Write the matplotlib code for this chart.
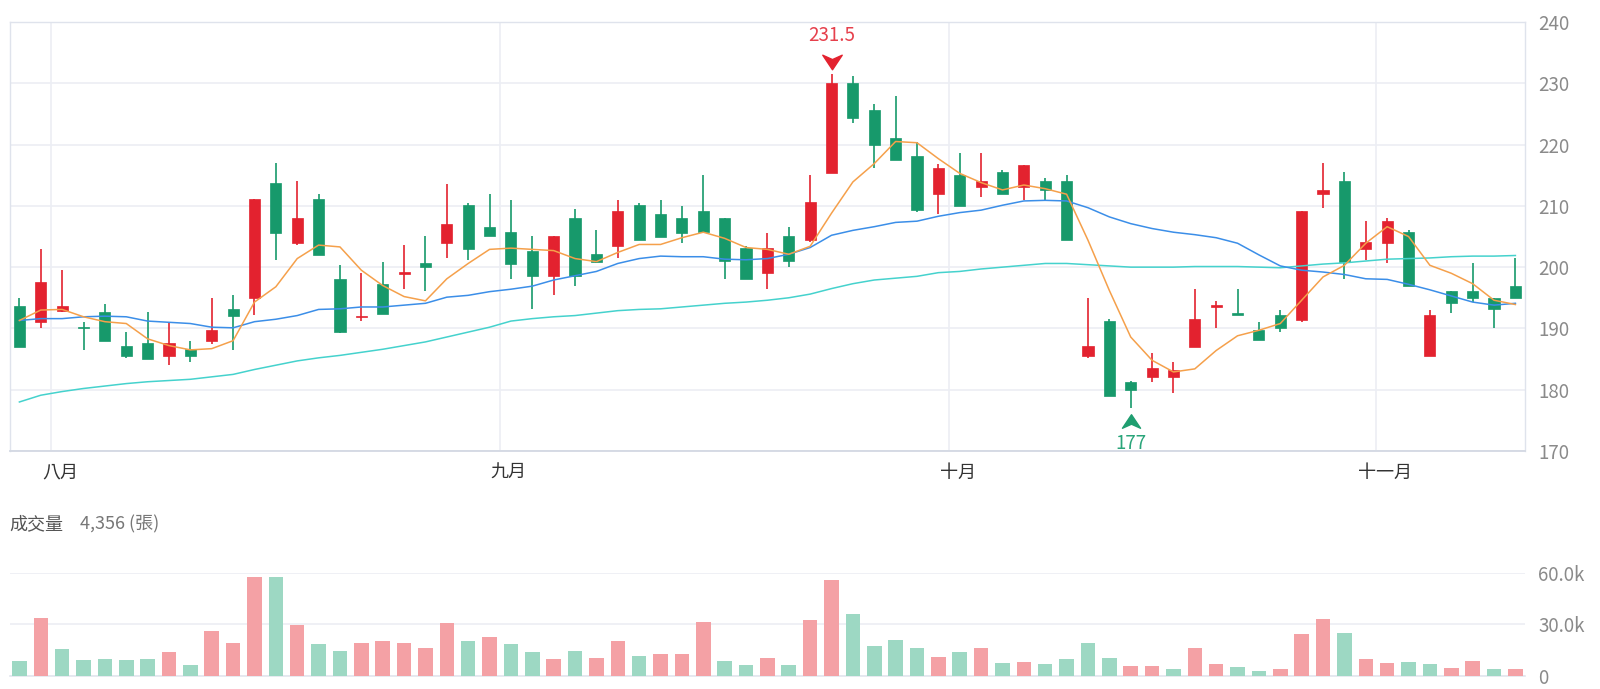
import numpy as np
import matplotlib
matplotlib.use("Agg")
import matplotlib.pyplot as plt
from matplotlib.path import Path
from matplotlib.transforms import offset_copy, blended_transform_factory

plt.rcParams['font.family'] = ['Noto Sans CJK TC', 'DejaVu Sans']

# daily candles (open, close, high, low)
opens = [193.6, 191.0, 192.9, 190.2, 192.6, 187.1, 187.7, 185.5, 186.7, 188.0,
         193.1, 195.0, 213.7, 204.0, 211.1, 198.1, 191.8, 197.2, 198.9, 200.6,
         204.0, 210.1, 206.6, 205.7, 202.7, 198.5, 208.1, 202.1, 203.5, 210.1,
         208.6, 208.1, 209.1, 208.1, 203.2, 199.0, 205.1, 204.5, 215.4, 230.1,
         225.6, 221.1, 218.1, 212.0, 215.1, 213.1, 215.6, 213.0, 214.1, 214.1,
         185.5, 191.2, 181.2, 182.1, 182.1, 187.0, 193.5, 192.3, 189.7, 192.2,
         191.4, 212.0, 214.1, 203.0, 204.0, 205.7, 185.5, 196.1, 196.1, 195.0,
         197.0]
closes = [187.0, 197.6, 193.7, 190.0, 188.0, 185.5, 185.0, 187.7, 185.5, 189.7,
          192.0, 211.1, 205.5, 208.1, 202.0, 189.4, 192.1, 192.3, 199.1, 200.0,
          207.1, 203.0, 205.1, 200.5, 198.5, 205.1, 198.5, 200.9, 209.1, 204.5,
          204.9, 205.5, 205.7, 201.0, 198.0, 203.1, 201.0, 210.7, 230.1, 224.4,
          219.9, 217.5, 209.4, 216.1, 210.0, 214.1, 212.0, 216.6, 212.6, 204.5,
          187.1, 178.9, 180.0, 183.6, 183.2, 191.6, 193.7, 192.2, 188.1, 190.0,
          209.1, 212.6, 200.9, 204.1, 207.6, 197.0, 192.2, 194.1, 195.0, 193.1,
          195.0]
highs = [195.0, 203.0, 199.5, 191.1, 194.0, 189.4, 192.7, 191.1, 188.0, 195.0,
         195.4, 211.1, 217.0, 214.0, 212.0, 200.4, 199.0, 200.9, 203.6, 205.1,
         213.5, 210.5, 212.0, 211.0, 205.1, 205.1, 209.5, 206.0, 211.0, 210.5,
         211.0, 210.0, 215.0, 208.1, 203.5, 205.6, 206.6, 215.0, 231.5, 231.2,
         226.6, 228.0, 220.5, 216.9, 218.6, 218.6, 215.9, 216.6, 214.6, 215.0,
         195.0, 191.5, 181.5, 186.0, 184.5, 196.5, 194.4, 196.5, 191.0, 193.0,
         209.1, 217.0, 215.6, 207.6, 208.0, 206.0, 193.0, 196.1, 200.6, 195.0,
         201.5]
lows = [187.0, 190.0, 192.6, 186.5, 188.0, 185.1, 185.0, 184.0, 184.5, 187.5,
        186.5, 192.2, 201.1, 203.6, 202.0, 189.2, 191.2, 192.3, 196.5, 196.1,
        201.5, 201.1, 205.1, 198.1, 193.1, 195.5, 197.0, 200.6, 201.5, 204.5,
        204.9, 204.0, 205.7, 198.1, 198.0, 196.5, 200.0, 204.1, 215.4, 223.6,
        216.1, 217.5, 209.0, 208.6, 210.0, 211.5, 212.0, 211.0, 211.0, 204.5,
        185.1, 178.9, 177.0, 181.3, 179.5, 187.0, 190.0, 192.2, 188.1, 189.4,
        191.1, 209.6, 198.1, 201.1, 200.6, 197.0, 185.5, 192.5, 194.3, 190.0,
        195.0]

# moving averages
ma5 = [191.3, 193.0, 193.1, 191.9, 191.1, 190.8, 188.3, 187.2, 186.5, 186.7,
       188.0, 194.3, 196.8, 201.4, 203.6, 203.3, 199.5, 197.0, 195.2, 194.5,
       198.1, 200.6, 202.9, 203.1, 202.9, 202.7, 201.4, 200.9, 202.4, 203.7,
       203.7, 204.8, 205.7, 204.7, 203.2, 202.9, 202.1, 203.4, 208.8, 213.9,
       216.9, 220.5, 220.3, 217.7, 215.3, 213.8, 212.6, 213.4, 212.8, 211.9,
       204.4, 196.2, 188.6, 184.8, 182.9, 183.4, 186.4, 188.8, 189.7, 190.8,
       194.6, 198.4, 200.3, 203.9, 206.6, 205.0, 200.3, 199.0, 197.3, 194.6,
       193.9]
ma20 = [191.3, 191.6, 191.6, 191.9, 192.0, 191.9, 191.2, 191.0, 190.8, 190.2,
        190.1, 191.1, 191.5, 192.1, 193.1, 193.2, 193.5, 193.5, 193.8, 194.1,
        195.1, 195.4, 196.0, 196.4, 196.9, 197.9, 198.6, 199.3, 200.6, 201.4,
        201.8, 201.7, 201.7, 201.3, 201.2, 201.4, 202.1, 203.2, 205.2, 206.0,
        206.6, 207.3, 207.5, 208.3, 208.9, 209.3, 210.1, 210.8, 210.9, 210.8,
        209.7, 208.2, 207.1, 206.3, 205.7, 205.3, 204.8, 203.9, 202.0, 200.2,
        199.5, 199.2, 198.8, 198.1, 198.0, 197.2, 196.3, 195.3, 194.3, 193.8,
        194.1]
ma60 = [178.0, 179.1, 179.7, 180.2, 180.6, 181.0, 181.3, 181.5, 181.7, 182.1,
        182.5, 183.3, 184.0, 184.7, 185.2, 185.6, 186.1, 186.6, 187.2, 187.8,
        188.6, 189.4, 190.2, 191.2, 191.6, 191.9, 192.1, 192.5, 192.9, 193.1,
        193.2, 193.5, 193.8, 194.1, 194.3, 194.6, 195.0, 195.6, 196.5, 197.3,
        197.9, 198.2, 198.5, 199.1, 199.3, 199.7, 200.0, 200.3, 200.6, 200.6,
        200.4, 200.2, 200.0, 200.0, 200.0, 200.1, 200.1, 200.1, 200.0, 199.9,
        200.2, 200.5, 200.7, 201.0, 201.3, 201.4, 201.5, 201.7, 201.8, 201.8,
        201.9]

# volume in thousands of lots
volume_k = [8.5, 33.5, 15.4, 9.4, 10.0, 9.4, 10.0, 13.8, 6.5, 26.3,
            19.2, 57.5, 57.5, 29.8, 18.7, 14.6, 19.0, 20.6, 19.0, 16.3,
            30.6, 20.4, 22.9, 18.5, 14.2, 9.6, 14.6, 10.2, 20.6, 11.7,
            12.5, 12.9, 31.5, 8.5, 6.5, 10.6, 6.2, 32.7, 55.6, 36.0,
            17.7, 21.0, 16.5, 11.3, 14.2, 16.2, 7.7, 8.1, 6.7, 9.6,
            19.0, 10.4, 5.6, 5.6, 4.2, 16.3, 7.1, 5.0, 2.9, 4.0,
            24.4, 33.1, 24.8, 10.0, 7.5, 8.3, 6.7, 4.8, 8.8, 3.8,
            4.356]

month_names = ['八月', '九月', '十月', '十一月']
month_start = [2, 23, 44, 64]   # index of first trading day in month

RED = '#e3222f'
GREEN = '#17996b'
VRED = '#f4a1a5'
VGREEN = '#9dd8c3'
GRID = '#eceef4'
FRAME = '#dfe3ec'
TICK = '#8a8a8a'

o = np.array(opens)
c = np.array(closes)
h = np.array(highs)
l = np.array(lows)
x = np.arange(len(o))
vol = np.array(volume_k) * 1000

W, H = 1600, 689
fig = plt.figure(figsize=(W / 100, H / 100), dpi=100)

def px_axes(left, top, right, bottom):
    return fig.add_axes([left / W, 1 - bottom / H, (right - left) / W, (bottom - top) / H])

ax = px_axes(10, 22, 1525, 451)
axv = px_axes(10, 572.7, 1525, 676)

# ---- price panel
xlim = (-0.44, 70.45)
ax.set_xlim(*xlim)
ax.set_ylim(170, 240)
ax.set_yticks(np.arange(170, 241, 10))
ax.yaxis.tick_right()
ax.tick_params(axis='y', length=0, pad=9.5, labelsize=13.5, labelcolor=TICK)
for lbl in ax.get_yticklabels():
    lbl.set_horizontalalignment('left')
ax.set_xticks([])
ax.grid(axis='y', color=GRID, lw=1.2)
ax.set_axisbelow(True)
for s in ax.spines.values():
    s.set_color(FRAME)
    s.set_linewidth(1.0)
ax.spines['bottom'].set_color('#d3d8e3')
ax.spines['bottom'].set_linewidth(1.3)

for m in month_start:
    ax.axvline(m - 0.5, color=GRID, lw=1.2, zorder=0)
trans = blended_transform_factory(ax.transData, ax.transAxes)
for name, m in zip(month_names, month_start):
    ax.text(m - 0.1, -0.05, name, transform=trans, ha='center', va='center',
            fontsize=13, color='#333333')

up = c >= o
colors = np.where(up, RED, GREEN)
ax.vlines(x, l, h, colors=colors, lw=1.2, zorder=2)
body_bot = np.minimum(o, c)
body_h = np.maximum(np.abs(c - o), 0.3)
ax.bar(x, body_h, bottom=body_bot, width=0.52, color=colors, edgecolor=colors,
       lw=0.5, zorder=3)

ax.plot(x, ma60, color='#45d2cd', lw=1.1, zorder=4)
ax.plot(x, ma20, color='#3b8ee8', lw=1.1, zorder=4)
ax.plot(x, ma5, color='#f5a04b', lw=1.1, zorder=4)

# high / low markers
arrow_down = Path([(-1, 0.75), (0, 0.3), (1, 0.75), (0, -0.75), (-1, 0.75)],
                  [Path.MOVETO, Path.LINETO, Path.LINETO, Path.LINETO, Path.CLOSEPOLY])
arrow_up = Path([(-1, -0.75), (0, -0.3), (1, -0.75), (0, 0.75), (-1, -0.75)],
                [Path.MOVETO, Path.LINETO, Path.LINETO, Path.LINETO, Path.CLOSEPOLY])
ih = int(np.argmax(h))
il = int(np.argmin(l))
ax.plot([ih], [h[ih]], marker=arrow_down, ms=14, color=RED, mec=RED,
        transform=offset_copy(ax.transData, fig, y=12.5 * 0.72, units='points'),
        clip_on=False, zorder=5)
ax.text(ih, h[ih], f'{h[ih]:g}', color='#e6404c', fontsize=13.5, ha='center', va='center',
        transform=offset_copy(ax.transData, fig, y=39 * 0.72, units='points'))
ax.plot([il], [l[il]], marker=arrow_up, ms=13, color='#1f9e70', mec='#1f9e70',
        transform=offset_copy(ax.transData, fig, y=-12.5 * 0.72, units='points'),
        clip_on=False, zorder=5)
ax.text(il, l[il], f'{l[il]:g}', color='#2aa57a', fontsize=13.5, ha='center', va='center',
        transform=offset_copy(ax.transData, fig, y=-35 * 0.72, units='points'))

# ---- volume panel
prev = np.concatenate([[o[0]], c[:-1]])
vcolors = np.where(c > prev, VRED, VGREEN)
axv.bar(x, vol, width=0.68, color=vcolors, zorder=3)
axv.set_xlim(*xlim)
axv.set_ylim(0, 60000)
axv.set_yticks([0, 30000, 60000])
axv.set_yticklabels(['0', '30.0k', '60.0k'])
axv.yaxis.tick_right()
axv.tick_params(axis='y', length=0, pad=9.5, labelsize=13.5, labelcolor=TICK)
for lbl in axv.get_yticklabels():
    lbl.set_horizontalalignment('left')
axv.set_xticks([])
axv.grid(axis='y', color=GRID, lw=1.2)
axv.set_axisbelow(True)
for s in ['top', 'left', 'right']:
    axv.spines[s].set_visible(False)
axv.spines['bottom'].set_color('#e3e6ee')
axv.spines['bottom'].set_linewidth(1.2)

fig.text(9 / W, 1 - 524 / H, '成交量', fontsize=13, color='#555555', va='center', ha='left')
fig.text(80 / W, 1 - 524 / H, f'{volume_k[-1] * 1000:,.0f} (張)', fontsize=13,
         color='#777777', va='center', ha='left')

fig.savefig('out.png', dpi=100)
